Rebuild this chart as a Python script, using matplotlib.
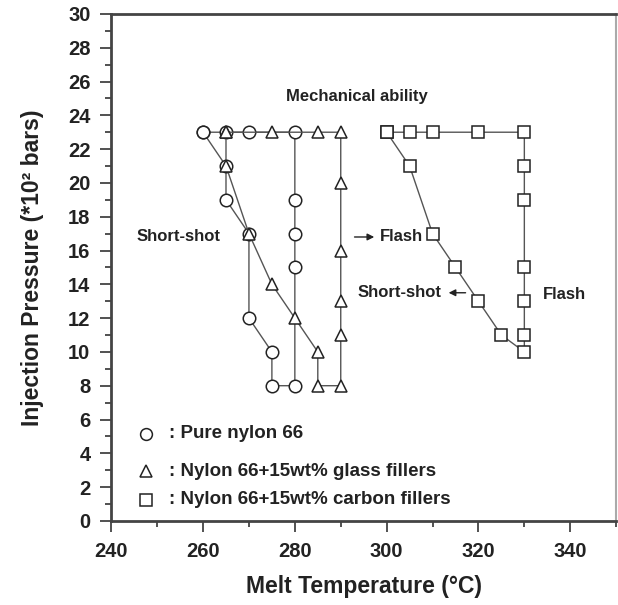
import matplotlib
matplotlib.use('Agg')
import matplotlib.pyplot as plt
from matplotlib.ticker import MultipleLocator

plt.rcParams['font.family'] = ['Liberation Sans', 'DejaVu Sans']

# pure nylon 66 (circles), closed processing window
nylon_t = [260, 265, 265, 270, 270, 275, 275, 280, 280, 280, 280, 280, 270, 265, 260]
nylon_p = [23, 21, 19, 17, 12, 10, 8, 8, 15, 17, 19, 23, 23, 23, 23]
# nylon 66 + 15wt% glass fillers (triangles)
glass_t = [265, 265, 270, 275, 280, 285, 285, 290, 290, 290, 290, 290, 290, 285, 275, 265]
glass_p = [23, 21, 17, 14, 12, 10, 8, 8, 11, 13, 16, 20, 23, 23, 23, 23]
# nylon 66 + 15wt% carbon fillers (squares)
carbon_t = [300, 305, 310, 315, 320, 325, 330, 330, 330, 330, 330, 330, 330, 320, 310, 305, 300]
carbon_p = [23, 21, 17, 15, 13, 11, 10, 11, 13, 15, 19, 21, 23, 23, 23, 23, 23]

legend_labels = [': Pure nylon 66',
                 ': Nylon 66+15wt% glass fillers',
                 ': Nylon 66+15wt% carbon fillers']

fig = plt.figure(figsize=(6.18, 6.05), dpi=100)
ax = fig.add_axes([0.18, 0.139, 0.817, 0.838])

mk = dict(mfc='white', mec='#222222', mew=1.1, lw=1.0, color='#555555')
ax.plot(nylon_t, nylon_p, marker='o', ms=9, **mk)
ax.plot(glass_t, glass_p, marker='^', ms=9, **mk)
ax.plot(carbon_t, carbon_p, marker='s', ms=8.5, **mk)

# legend drawn by hand like the original
for yy, m, lab in zip([5.15, 2.95, 1.25], ['o', '^', 's'], legend_labels):
  ax.plot([247.6], [yy], marker=m, ls='none', ms=8.5, mfc='white', mec='#222222', mew=1.1)
  ax.text(252.6, yy, lab, fontsize=13.5, fontweight='bold', va='center', ha='left', color='#222222')

# annotations
tb = dict(fontsize=12, fontweight='bold', color='#222222')
ax.text(293.5, 25.1, 'Mechanical ability', ha='center', va='center', **tb)
ax.text(254.7, 16.8, 'Short-shot', ha='center', va='center', **tb)
ax.text(298.6, 16.8, 'Flash', ha='left', va='center', **tb)
ax.text(312.0, 13.5, 'Short-shot', ha='right', va='center', **tb)
ax.text(338.8, 13.4, 'Flash', ha='center', va='center', **tb)
ax.annotate('', xy=(297.9, 16.8), xytext=(292.4, 16.8),
            arrowprops=dict(arrowstyle='-|>', color='#222222', lw=1.0, mutation_scale=10))
ax.annotate('', xy=(312.9, 13.5), xytext=(317.8, 13.5),
            arrowprops=dict(arrowstyle='-|>', color='#222222', lw=1.0, mutation_scale=10))

ax.set_xlim(240, 350)
ax.set_ylim(0, 30)
ax.xaxis.set_major_locator(MultipleLocator(20))
ax.xaxis.set_minor_locator(MultipleLocator(10))
ax.yaxis.set_major_locator(MultipleLocator(2))
ax.yaxis.set_minor_locator(MultipleLocator(1))
ax.set_xticks([240, 260, 280, 300, 320, 340])
ax.tick_params(which='major', length=8, width=1.2, color='#333333', labelsize=14.5, pad=7)
ax.tick_params(which='minor', length=4, width=1.2, color='#333333')
for lab in ax.get_xticklabels() + ax.get_yticklabels():
  lab.set_fontweight('bold')
  lab.set_color('#222222')

for side in ['left', 'bottom', 'top']:
  ax.spines[side].set_linewidth(2.0)
  ax.spines[side].set_color('#444444')
ax.spines['right'].set_linewidth(1.5)
ax.spines['right'].set_color('#aaaaaa')

ax.set_xlabel('Melt Temperature (°C)', fontsize=16.5, fontweight='bold', color='#222222', labelpad=10)
ax.set_ylabel('Injection Pressure (*10² bars)', fontsize=16.5, fontweight='bold', color='#222222', labelpad=17)

plt.savefig('out.png', dpi=100)
